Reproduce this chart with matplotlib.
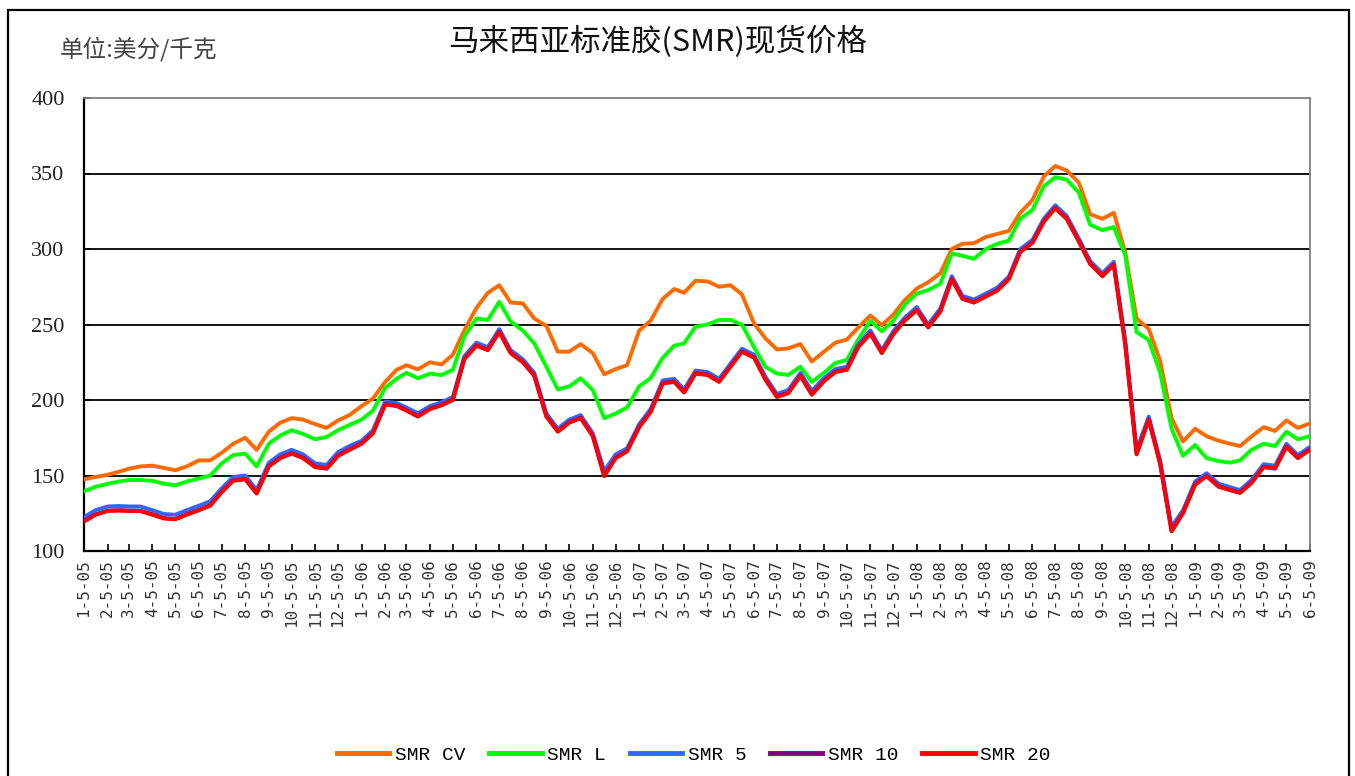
import matplotlib
matplotlib.use('Agg')
import matplotlib.pyplot as plt
import matplotlib.dates as mdates
from matplotlib.patches import Rectangle
import pandas as pd

# ---------------- data (semi-monthly samples) ----------------
dates = []
for y in range(2005, 2010):
    for m in range(1, 13):
        for d in (5, 20):
            ts = pd.Timestamp(y, m, d)
            if ts <= pd.Timestamp(2009, 6, 5):
                dates.append(ts)

smr_cv = [147.5,149,150.5,152.5,154.5,156,156.5,155,153.5,156,
          160,160,165,171,175,167,179,185,188,187,
          184,181.5,186.5,190,196,201,212,220,223,220.3,
          225,223.5,230,246,261,271,276,264.5,264,254,
          249,232,232,237,231,217,220.5,223,246,252.5,
          267,273.5,271,279,278.5,275,276,270,250.7,240.8,
          233.5,234.2,237,225.5,232,238,240,248,256,249.5,
          256.5,266,273.8,278,284,300,303.5,303.8,308,310,
          312,324,332.4,348,355,352,344,323,320,324,
          298,254,247,226,188,172.5,181,176,173,171,
          169.5,175.8,182,179.5,186.5,181.5,184.5]

smr_l = [139.5,142.5,144.5,146,147,147,146.5,144.5,143.5,146,
         148,150,158,163.5,164.5,156,171,176.5,180,177.5,
         174,175.5,180,183.5,187,193,208,214,218,214.4,
         217.5,216.5,220,242,254,253,265,252,246,237.5,
         222,207,209,214.4,206.6,188,191,195,209,214.5,
         228,236,237.5,248.5,250,253,253,250,235,222,
         217.5,216.6,222,212,218,224.5,226.5,240,252.5,245.5,
         252.5,263,270.5,272.8,277,297,295.5,293.5,300,303.5,
         305.5,320,325.8,341.5,347.5,346,337.5,316,312.5,314.5,
         296,245,239.7,218,181,163,170.2,161.5,159.5,158.5,
         160,167,171,169.5,179,174,176]

smr_5 = [122.5,127,129.5,129.8,129.5,129.5,127,124.5,124,127,
         130,133,141.5,149,150,140.4,158.5,164,167,164,
         158,157,165.5,169.5,173,180,199,198,195,191.2,
         196,198.5,202,229,238,235,247,233,227,218,
         191,181,187,190,178,153,164,168,184,194,
         213,214,207,219.5,218.5,214,224,234,230,215.4,
         204,206.6,218,206,214.5,220.5,222,237,246,233,
         245.5,254.5,261.5,250,260.7,282,269,266.5,270.6,274.5,
         281.7,300,306,320,329,322,307,292,284,291.5,
         240,167,189,160,116,127,146,151.5,144.5,142.3,
         140.4,147,157.5,156.5,171,163.5,169]

smr_10 = [119.8,124.2,126.8,127,126.8,126.7,124.3,121.8,121.2,124.3,
          127.2,130.3,139.2,146.7,147.8,138.3,156.2,161.8,164.7,161.8,
          155.8,154.7,163.2,167.3,171.2,178.2,197.2,196.3,193.2,189.3,
          194.2,196.7,200.2,227.3,236.2,233.2,245.2,231.3,225.2,216.3,
          189.2,179.3,185.2,188.3,176.2,149.8,161.7,166.3,182.2,192.3,
          211.2,212.3,205.2,217.7,216.8,212.2,222.3,232.2,228.3,213.7,
          202.3,204.7,216.2,203.7,212.7,218.8,220.2,235.3,244.2,231.3,
          243.7,252.8,259.7,248.3,258.9,280.2,267.3,264.7,268.8,272.7,
          280.2,298.3,304.2,318.3,327.2,320.3,305.2,290.3,282.2,289.7,
          237.3,164.3,187.2,157.8,113.3,125.2,144.3,149.7,142.8,140.5,
          138.7,145.3,155.7,154.8,169.2,161.7,167.3]

smr_20 = [119.5,124,126.5,126.8,126.5,126.5,124,121.5,121,124,
          127,130,139,146.5,147.5,138,156,161.5,164.5,161.5,
          155.5,154.5,163,167,171,178,197,196,193,189,
          194,196.5,200,227,236,233,245,231,225,216,
          189,179,185,188,176,149.5,161.5,166,182,192,
          211,212,205,217.5,216.5,212,222,232,228,213.5,
          202,204.5,216,203.5,212.5,218.5,220,235,244,231,
          243.5,252.5,259.5,248,258.7,280,267,264.5,268.6,272.5,
          280,298,304,318,327,320,305,290,282,289.5,
          237,164,187,157.5,113,125,144,149.5,142.5,140.3,
          138.5,145,155.5,154.5,169,161.5,167]

series_names = ['SMR CV', 'SMR L', 'SMR 5', 'SMR 10', 'SMR 20']
series_colors = ['#FF6A00', '#00FF00', '#3366FF', '#800080', '#FF0000']
series_values = [smr_cv, smr_l, smr_5, smr_10, smr_20]

tick_dates = list(pd.date_range('2005-01-05', '2009-06-05', freq=pd.DateOffset(months=1)))
tick_labels = [f"{d.month}-5-{d.year % 100:02d}" for d in tick_dates]
y_ticks = [100, 150, 200, 250, 300, 350, 400]

title = '马来西亚标准胶(SMR)现货价格'
unit_text = '单位:美分/千克'

# ---------------- figure ----------------
W, H = 1355, 776
fig = plt.figure(figsize=(W / 100, H / 100), dpi=100)
fig.patch.set_facecolor('white')

cjk = ['Noto Sans CJK SC', 'DejaVu Sans']

# outer frame
fig.add_artist(Rectangle((8 / W, -0.05), (1349 - 8) / W, 1 - 10 / H + 0.05,
                         transform=fig.transFigure, fill=False,
                         edgecolor='black', linewidth=1.6))

ax = fig.add_axes([84 / W, 1 - 551 / H, (1310 - 84) / W, (551 - 98) / H])

for vals, name, col in zip(series_values, series_names, series_colors):
    ax.plot(dates, vals, color=col, linewidth=2.8, label=name,
            solid_joinstyle='round', zorder=3)

ax.set_xlim(pd.Timestamp(2005, 1, 5), pd.Timestamp(2009, 6, 5))
ax.set_ylim(100, 400)

ax.set_yticks(y_ticks)
ax.set_yticklabels([str(v) for v in y_ticks], fontfamily='Liberation Serif',
                   fontsize=16, color='#222222')
ax.set_xticks(tick_dates)
ax.set_xticklabels(tick_labels, rotation=90, fontfamily='DejaVu Sans Mono',
                   fontsize=11.5, color='#333333', ha='center', va='top')

ax.tick_params(axis='x', direction='in', length=5, width=1.2, pad=6)
ax.tick_params(axis='y', direction='in', length=5, width=1.2, pad=14)

for v in y_ticks[1:-1]:
    ax.axhline(v, color='black', linewidth=1.3, zorder=1)

for s in ['left', 'bottom']:
    ax.spines[s].set_color('black')
    ax.spines[s].set_linewidth(1.6)
for s in ['top', 'right']:
    ax.spines[s].set_color('#808080')
    ax.spines[s].set_linewidth(1.3)

# titles
fig.text(658 / W, 1 - 42 / H, title, ha='center', va='center',
         fontsize=22, family=cjk, color='#111111')
fig.text(60 / W, 1 - 49 / H, unit_text, ha='left', va='center',
         fontsize=17, family=cjk, color='#444444')

# legend
handles, labels = ax.get_legend_handles_labels()
leg = fig.legend(handles, labels, ncol=5, loc='center',
                 bbox_to_anchor=(694 / W, 1 - 755 / H), frameon=False,
                 prop={'family': 'Liberation Mono', 'size': 14},
                 handlelength=2.7, handletextpad=0.3, columnspacing=1.2)
for line in leg.get_lines():
    line.set_linewidth(3.5)

fig.savefig('out.png', dpi=100, facecolor='white')
